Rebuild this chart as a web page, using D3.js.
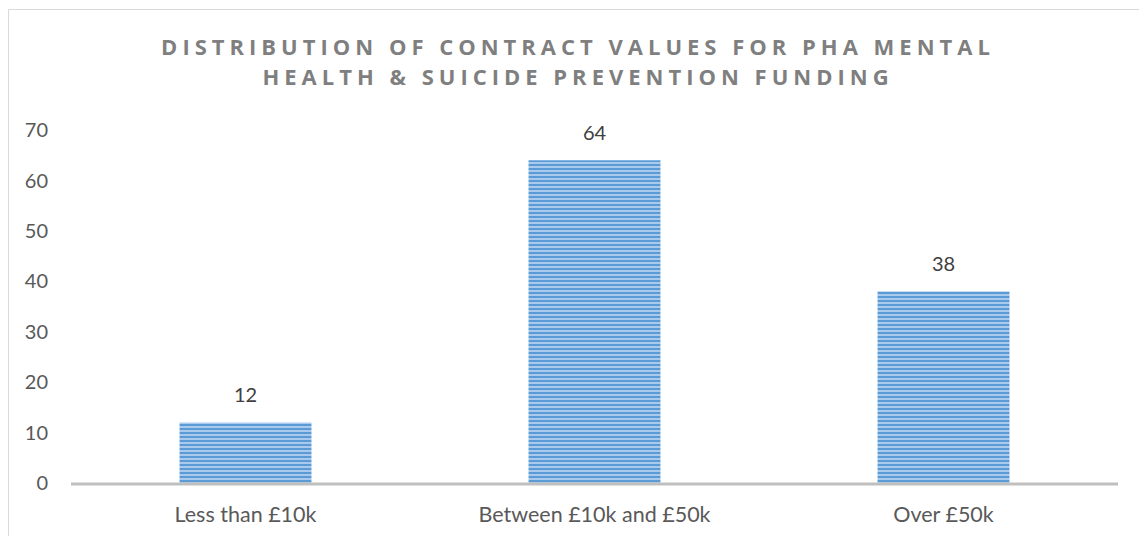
<!DOCTYPE html>
<html><head><meta charset="utf-8">
<script src="https://cdn.jsdelivr.net/npm/d3@7"></script>
<style>body{margin:0;background:#fff}svg{display:block}</style>
</head><body><svg id="c" width="1139" height="536"></svg>
<script>
const categories = ["Less than £10k", "Between £10k and £50k", "Over £50k"];
const values = [12, 64, 38];
const yTicks = [0, 10, 20, 30, 40, 50, 60, 70];
const titleLines = ["DISTRIBUTION OF CONTRACT VALUES FOR PHA MENTAL", "HEALTH & SUICIDE PREVENTION FUNDING"];

const svg = d3.select("#c");
const font = "Lato, 'Open Sans', 'Liberation Sans', sans-serif";
const tfont = "'Open Sans', 'Liberation Sans', sans-serif";

// border (left & top)
svg.append("path").attr("d", "M8.5,536 V9.5 H1139").attr("fill", "none").attr("stroke", "#d9d9d9").attr("stroke-width", 1);

const defs = svg.append("defs");
const pat = defs.append("pattern").attr("id", "stripes").attr("patternUnits", "userSpaceOnUse")
  .attr("width", 8).attr("height", 4);
pat.append("rect").attr("width", 8).attr("height", 4).attr("fill", "#a9caec");
pat.append("rect").attr("width", 8).attr("height", 2).attr("fill", "#5b9bd5");

const x0 = 71, x1 = 1118, yTop = 130, yBot = 483;
const x = d3.scaleBand().domain(categories).range([x0, x1]).paddingInner(0).paddingOuter(0);
const y = d3.scaleLinear().domain([0, 70]).range([yBot, yTop]);
const barW = x.bandwidth() * 0.378;

// title
svg.append("g").selectAll("text").data(titleLines).join("text")
  .attr("x", 578).attr("y", (d, i) => 55 + i * 30)
  .attr("text-anchor", "middle").attr("font-family", tfont).attr("font-weight", "bold")
  .attr("font-size", 22).attr("letter-spacing", 5).attr("fill", "#7f7f7f").text(d => d);

// y tick labels
svg.append("g").selectAll("text").data(yTicks).join("text")
  .attr("x", 48).attr("y", d => y(d)).attr("dy", "0.36em").attr("text-anchor", "end")
  .attr("font-family", font).attr("font-size", 20).attr("fill", "#595959").text(d => d);

// bars
svg.append("g").selectAll("rect").data(values).join("rect")
  .attr("x", (d, i) => x(categories[i]) + (x.bandwidth() - barW) / 2)
  .attr("y", d => y(d)).attr("width", barW).attr("height", d => yBot - y(d))
  .attr("fill", "url(#stripes)");

// value labels
svg.append("g").selectAll("text").data(values).join("text")
  .attr("x", (d, i) => x(categories[i]) + x.bandwidth() / 2).attr("y", d => y(d) - 20)
  .attr("text-anchor", "middle").attr("font-family", font).attr("font-size", 20)
  .attr("fill", "#404040").text(d => d);

// axis line
svg.append("line").attr("x1", x0).attr("x2", x1).attr("y1", yBot + 1).attr("y2", yBot + 1)
  .attr("stroke", "#bfbfbf").attr("stroke-width", 3);

// category labels
svg.append("g").selectAll("text").data(categories).join("text")
  .attr("x", d => x(d) + x.bandwidth() / 2).attr("y", 522)
  .attr("text-anchor", "middle").attr("font-family", font).attr("font-size", 21.5)
  .attr("fill", "#595959").text(d => d);
</script></body></html>
